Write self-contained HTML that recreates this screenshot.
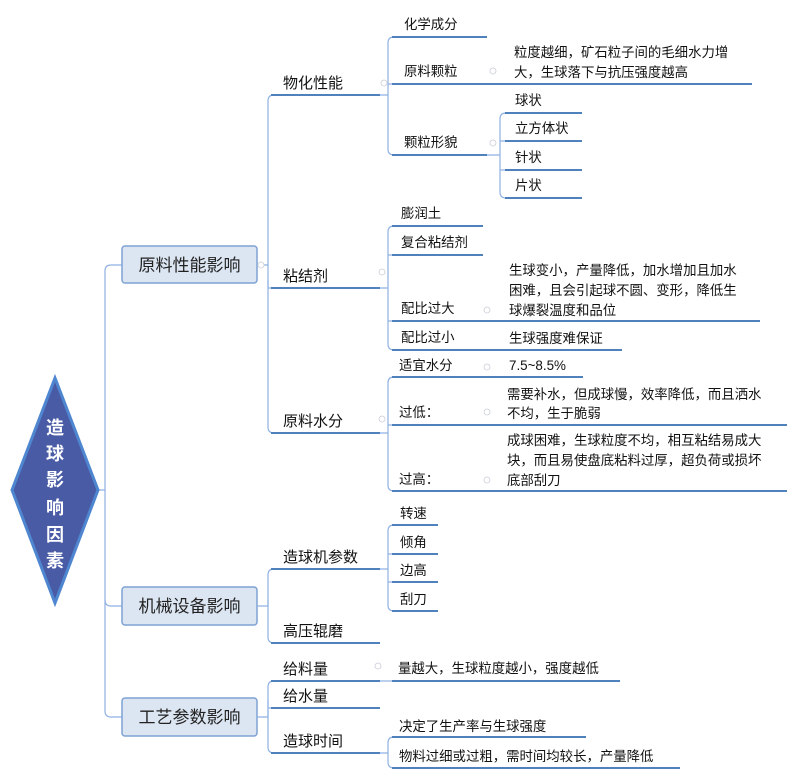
<!DOCTYPE html>
<html><head><meta charset="utf-8"><style>
html,body{margin:0;padding:0;background:#fff;}
svg{display:block;font-family:"Liberation Sans","Noto Sans CJK SC",sans-serif;}
.c{fill:none;stroke:#8fb1e3;stroke-width:1.2;}
.u{stroke:#4f81bd;stroke-width:2;}
.t2{font-size:15px;fill:#111;}
.t3{font-size:13.4px;fill:#111;}
.o{fill:#fff;stroke:#c8cdd8;stroke-width:0.8;}
</style></head><body>
<svg width="800" height="780" viewBox="0 0 800 780" xmlns="http://www.w3.org/2000/svg">
<path class="c" d="M98 490 H105 V271 Q105 265 111 265 H122"/>
<path class="c" d="M105 490 V600 Q105 606 111 606 H122"/>
<path class="c" d="M105 600 V711 Q105 717 111 717 H122"/>
<polygon points="55,378 98,490 55,603 12,490" fill="#4a5ba6" stroke="#4f86d0" stroke-width="3"/>
<g font-size="18" font-weight="bold" fill="#fff" text-anchor="middle">
<text x="55" y="434">造</text><text x="55" y="460">球</text><text x="55" y="486">影</text>
<text x="55" y="514">响</text><text x="55" y="541">因</text><text x="55" y="567">素</text>
</g>
<g font-size="17" fill="#222" text-anchor="middle">
<rect x="122" y="246" width="135" height="37" rx="3" fill="#dce6f2" stroke="#7fa2d4" stroke-width="1.5"/>
<text x="189.5" y="271">原料性能影响</text>
<rect x="122" y="587" width="135" height="38" rx="3" fill="#dce6f2" stroke="#7fa2d4" stroke-width="1.5"/>
<text x="189.5" y="612">机械设备影响</text>
<rect x="122" y="698" width="135" height="38" rx="3" fill="#dce6f2" stroke="#7fa2d4" stroke-width="1.5"/>
<text x="189.5" y="723">工艺参数影响</text>
</g>
<path class="c" d="M257 265 H268 V101 Q268 95 274 95"/>
<path class="c" d="M268 265 V288 H274"/>
<path class="c" d="M268 280 V427 Q268 433 274 433"/>
<path class="c" d="M257 606 H268 V575 Q268 569 274 569"/>
<path class="c" d="M268 600 V637 Q268 643 274 643"/>
<path class="c" d="M257 717 H268 V687 Q268 681 274 681"/>
<path class="c" d="M268 700 V708 H274"/>
<path class="c" d="M268 710 V747 Q268 753 274 753"/>
<g class="u">
<line x1="271" y1="95" x2="380" y2="95"/><line x1="271" y1="288" x2="380" y2="288"/><line x1="271" y1="433" x2="380" y2="433"/>
<line x1="271" y1="569" x2="380" y2="569"/><line x1="271" y1="643" x2="380" y2="643"/>
<line x1="271" y1="681" x2="380" y2="681"/><line x1="271" y1="708" x2="380" y2="708"/><line x1="271" y1="753" x2="380" y2="753"/>
</g>
<g class="t2">
<text x="283" y="88">物化性能</text><text x="283" y="281">粘结剂</text><text x="283" y="426">原料水分</text>
<text x="283" y="562">造球机参数</text><text x="283" y="636">高压辊磨</text>
<text x="283" y="674">给料量</text><text x="283" y="701">给水量</text><text x="283" y="746">造球时间</text>
</g>
<path class="c" d="M380 95 H388 V43 Q388 37 394 37 M388 84 H394 M388 95 V149 Q388 155 394 155"/>
<path class="c" d="M380 288 H388 V232 Q388 226 394 226 M388 255 H394 M388 321 H394 M388 288 V344 Q388 350 394 350"/>
<path class="c" d="M380 433 H388 V383 Q388 377 394 377 M388 425 H394 M388 433 V485 Q388 491 394 491"/>
<path class="c" d="M380 569 H388 V531 Q388 525 394 525 M388 554 H394 M388 582 H394 M388 569 V605 Q388 611 394 611"/>
<path class="c" d="M380 681 H392"/>
<path class="c" d="M380 753 H388 V743 Q388 737 394 737 M388 753 V762 Q388 768 394 768"/>
<path class="c" d="M487 155 H500 V119 Q500 113 506 113 M500 141 H506 M500 170 H506 M500 155 V192 Q500 198 506 198"/>
<g class="u">
<line x1="392" y1="37" x2="487" y2="37"/><line x1="392" y1="84" x2="752" y2="84"/><line x1="392" y1="155" x2="487" y2="155"/>
<line x1="505" y1="113" x2="582" y2="113"/><line x1="505" y1="141" x2="582" y2="141"/><line x1="505" y1="170" x2="582" y2="170"/><line x1="505" y1="198" x2="582" y2="198"/>
<line x1="392" y1="226" x2="483" y2="226"/><line x1="392" y1="255" x2="483" y2="255"/><line x1="392" y1="321" x2="760" y2="321"/><line x1="392" y1="350" x2="622" y2="350"/>
<line x1="392" y1="377" x2="583" y2="377"/><line x1="392" y1="425" x2="787" y2="425"/><line x1="392" y1="491" x2="787" y2="491"/>
<line x1="392" y1="525" x2="438" y2="525"/><line x1="392" y1="554" x2="438" y2="554"/><line x1="392" y1="582" x2="438" y2="582"/><line x1="392" y1="611" x2="438" y2="611"/>
<line x1="392" y1="681" x2="620" y2="681"/><line x1="392" y1="737" x2="586" y2="737"/><line x1="392" y1="768" x2="680" y2="768"/>
</g>
<g class="t3">
<text x="404" y="29">化学成分</text><text x="404" y="76">原料颗粒</text><text x="404" y="147">颗粒形貌</text>
<text x="514" y="57">粒度越细，矿石粒子间的毛细水力增</text><text x="514" y="77">大，生球落下与抗压强度越高</text>
<text x="515" y="105">球状</text><text x="515" y="133">立方体状</text><text x="515" y="162">针状</text><text x="515" y="190">片状</text>
<text x="401" y="218">膨润土</text><text x="401" y="247">复合粘结剂</text><text x="401" y="313">配比过大</text><text x="401" y="342">配比过小</text>
<text x="509" y="275">生球变小，产量降低，加水增加且加水</text><text x="509" y="295">困难，且会引起球不圆、变形，降低生</text><text x="509" y="315">球爆裂温度和品位</text>
<text x="509" y="343">生球强度难保证</text>
<text x="399" y="370">适宜水分</text><text x="399" y="417">过低：</text><text x="399" y="484">过高：</text>
<text x="509" y="370">7.5~8.5%</text>
<text x="507" y="399">需要补水，但成球慢，效率降低，而且洒水</text><text x="507" y="418">不均，生于脆弱</text>
<text x="507" y="445">成球困难，生球粒度不均，相互粘结易成大</text><text x="507" y="465">块，而且易使盘底粘料过厚，超负荷或损坏</text><text x="507" y="485">底部刮刀</text>
<text x="400" y="518">转速</text><text x="400" y="547">倾角</text><text x="400" y="575">边高</text><text x="400" y="604">刮刀</text>
<text x="398" y="673">量越大，生球粒度越小，强度越低</text>
<text x="399" y="731">决定了生产率与生球强度</text><text x="399" y="761">物料过细或过粗，需时间均较长，产量降低</text>
</g>
<g class="o">
<circle cx="384" cy="83" r="3"/><circle cx="382" cy="272" r="3"/><circle cx="382" cy="419" r="3"/>
<circle cx="493" cy="71" r="3"/><circle cx="493" cy="143" r="3"/><circle cx="487" cy="310" r="3"/>
<circle cx="487" cy="367" r="3"/><circle cx="487" cy="412" r="3"/><circle cx="487" cy="480" r="3"/>
<circle cx="378" cy="666" r="3"/><circle cx="261" cy="265" r="3"/>
</g>
</svg>
</body></html>
